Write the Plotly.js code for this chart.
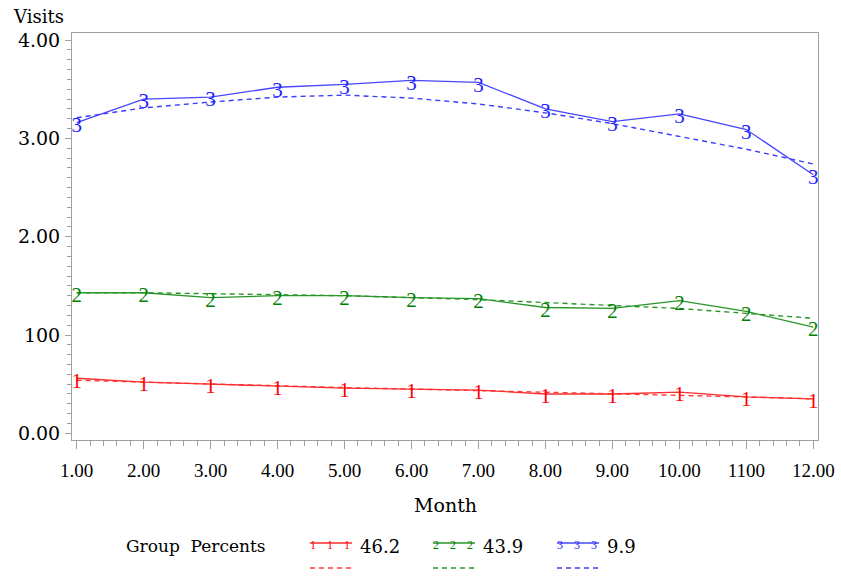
<!DOCTYPE html>
<html>
<head>
<meta charset="utf-8">
<script src="https://cdn.plot.ly/plotly-3.0.1.min.js"></script>
<style>
  html, body { margin: 0; padding: 0; background: #fff; }
  #chart { width: 841px; height: 578px; }
  /* point glyphs sit slightly below their vertex */
  #chart .textpoint text { translate: 0px 4px; }
</style>
</head>
<body>
<div id="chart"></div>
<script>
// Months on the x axis and their printed labels
const months = [1, 2, 3, 4, 5, 6, 7, 8, 9, 10, 11, 12];
const monthLabels = ["1.00", "2.00", "3.00", "4.00", "5.00", "6.00", "7.00", "8.00", "9.00", "10.00", "1100", "12.00"];

// Visits axis ticks
const visitTicks = [0, 1, 2, 3, 4];
const visitLabels = ["0.00", "100", "2.00", "3.00", "4.00"];

// Observed mean visits per group
const visits1 = [0.56, 0.52, 0.50, 0.48, 0.46, 0.45, 0.44, 0.40, 0.40, 0.42, 0.37, 0.35];
const visits2 = [1.43, 1.43, 1.38, 1.40, 1.40, 1.38, 1.37, 1.28, 1.27, 1.35, 1.24, 1.08];
const visits3 = [3.16, 3.40, 3.42, 3.52, 3.55, 3.59, 3.57, 3.30, 3.17, 3.25, 3.09, 2.63];

// Fitted trajectories per group
const fit1 = [0.54, 0.52, 0.50, 0.48, 0.465, 0.45, 0.435, 0.42, 0.40, 0.385, 0.37, 0.35];
const fit2 = [1.43, 1.43, 1.42, 1.41, 1.40, 1.38, 1.36, 1.33, 1.30, 1.27, 1.22, 1.17];
const fit3 = [3.21, 3.31, 3.37, 3.42, 3.44, 3.41, 3.35, 3.26, 3.15, 3.02, 2.89, 2.74];

// Group legend
const groupPercents = ["46.2", "43.9", "9.9"];
const groupGlyphs = ["1", "2", "3"];

const lineColors = ["rgb(255,45,45)", "rgb(40,150,40)", "rgb(70,70,255)"];
const glyphColors = ["rgb(255,0,0)", "rgb(0,128,0)", "rgb(30,30,255)"];
const fitColors = ["rgb(255,60,60)", "rgb(40,150,40)", "rgb(60,60,255)"];

const observed = [visits1, visits2, visits3];
const fitted = [fit1, fit2, fit3];

// Plot box in page pixels
const W = 841, H = 578;
const L = 72, T = 33, R = 818, B = 440;
const px = x => (x - L) / (R - L);
const py = y => (B - y) / (B - T);

const SERIF = "DejaVu Serif, serif";
const LSERIF = "Liberation Serif, serif";

const traces = [];
for (let g = 0; g < 3; g++) {
  traces.push({
    x: months, y: fitted[g], type: "scatter", mode: "lines",
    line: { color: fitColors[g], width: 1.4, dash: "5px,4px" },
    hoverinfo: "skip", showlegend: false
  });
  traces.push({
    x: months, y: observed[g], type: "scatter", mode: "lines+text",
    text: months.map(() => groupGlyphs[g]),
    textposition: "middle center",
    textfont: { family: LSERIF, size: 21, color: glyphColors[g] },
    line: { color: lineColors[g], width: 1.3 },
    showlegend: false
  });
}

const shapes = [];
const annotations = [];

// Axis caption on top of the vertical axis
annotations.push({
  text: "Visits", xref: "paper", yref: "paper",
  x: px(11), y: py(16), xanchor: "left", yanchor: "middle",
  showarrow: false, font: { family: SERIF, size: 18, color: "#000" }
});
// Horizontal axis caption
annotations.push({
  text: "Month", xref: "paper", yref: "paper",
  x: px(445), y: py(505), xanchor: "center", yanchor: "middle",
  showarrow: false, font: { family: SERIF, size: 19, color: "#000" }
});
// Legend heading
annotations.push({
  text: "Group&nbsp;&nbsp;Percents", xref: "paper", yref: "paper",
  x: px(124), y: py(546), xanchor: "left", yanchor: "middle",
  showarrow: false, font: { family: SERIF, size: 17, color: "#000" }
});

// Legend entries: solid sample with glyphs, value, dashed sample underneath
const entryX = [310, 433, 557];
for (let g = 0; g < 3; g++) {
  const x0 = entryX[g], x1 = x0 + 42;
  shapes.push({
    type: "line", xref: "paper", yref: "paper",
    x0: px(x0), x1: px(x1), y0: py(543), y1: py(543),
    line: { color: lineColors[g], width: 1.3 }
  });
  shapes.push({
    type: "line", xref: "paper", yref: "paper",
    x0: px(x0), x1: px(x1), y0: py(568), y1: py(568),
    line: { color: fitColors[g], width: 1.4, dash: "5px,4px" }
  });
  [3, 20, 37].forEach(dx => {
    annotations.push({
      text: groupGlyphs[g], xref: "paper", yref: "paper",
      x: px(x0 + dx), y: py(545), xanchor: "center", yanchor: "middle",
      showarrow: false, font: { family: LSERIF, size: 12, color: glyphColors[g] }
    });
  });
  annotations.push({
    text: groupPercents[g], xref: "paper", yref: "paper",
    x: px(x1 + 6), y: py(546), xanchor: "left", yanchor: "middle",
    showarrow: false, font: { family: SERIF, size: 18, color: "#000" }
  });
}

const layout = {
  width: W, height: H,
  margin: { l: L, r: W - R, t: T, b: H - B, pad: 0 },
  paper_bgcolor: "#fff", plot_bgcolor: "#fff",
  showlegend: false,
  xaxis: {
    range: [0.93, 12.07],
    tickmode: "array", tickvals: months, ticktext: monthLabels,
    ticks: "outside", ticklen: 8, tickwidth: 1, tickcolor: "#a0a0a0",
    minor: { dtick: 0.2, tick0: 1, ticks: "outside", ticklen: 5, tickcolor: "#a0a0a0", showgrid: false },
    showgrid: false, zeroline: false,
    showline: true, linecolor: "#a0a0a0", linewidth: 1, mirror: true,
    tickfont: { family: LSERIF, size: 19, color: "#000" },
    ticklabelstandoff: 5
  },
  yaxis: {
    range: [-0.068, 4.072],
    tickmode: "array", tickvals: visitTicks, ticktext: visitLabels,
    ticks: "outside", ticklen: 6, tickwidth: 1, tickcolor: "#a0a0a0",
    minor: { dtick: 0.1, tick0: 0, ticks: "outside", ticklen: 4, tickcolor: "#a0a0a0", showgrid: false },
    showgrid: false, zeroline: false,
    showline: true, linecolor: "#a0a0a0", linewidth: 1, mirror: true,
    tickfont: { family: SERIF, size: 19, color: "#000" },
    ticklabelstandoff: 1
  },
  shapes: shapes,
  annotations: annotations
};

Plotly.newPlot("chart", traces, layout, { staticPlot: true, displayModeBar: false });
</script>
</body>
</html>
